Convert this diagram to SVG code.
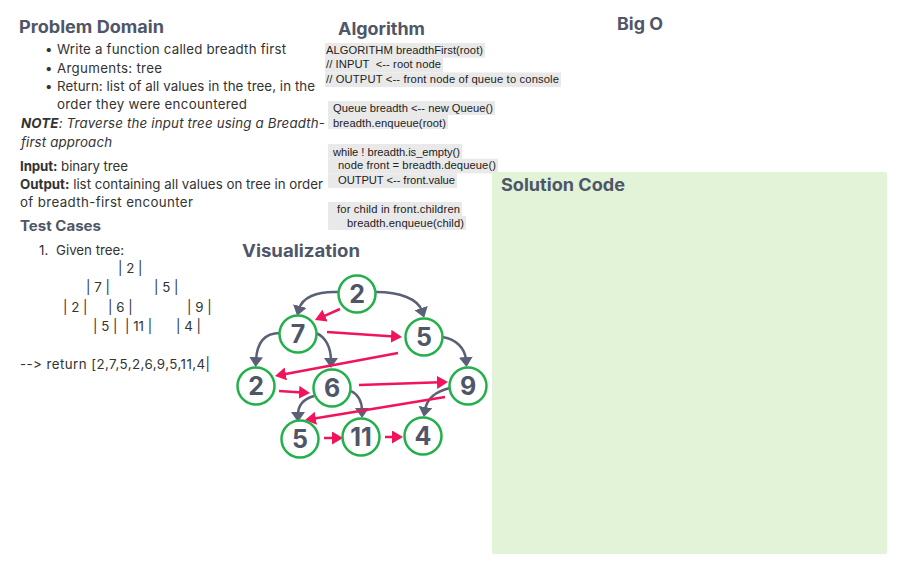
<svg xmlns="http://www.w3.org/2000/svg" width="921" height="568" viewBox="0 0 921 568">
<style>
.h{font-family:Inter,"Noto Sans",sans-serif;font-weight:700;font-size:17px;fill:#4f5668}
.h2{font-family:Inter,"Noto Sans",sans-serif;font-weight:700;font-size:14px;fill:#4f5668}
.t{font-family:Inter,"Noto Sans",sans-serif;font-size:13.3px;fill:#333;font-variant-ligatures:none;font-feature-settings:"calt" 0,"liga" 0}
.b{font-weight:700}
.i{font-style:italic}
.c{font-family:"Liberation Sans",Arial,sans-serif;font-size:11.2px;fill:#222}
.hl{fill:#e9e9e9}
.node circle{fill:#fff;stroke:#22b04b;stroke-width:2.5}
.node text{font-family:Inter,"Noto Sans",sans-serif;font-weight:700;font-size:25px;fill:#4f5668;text-anchor:middle}
.g{fill:none;stroke:#5a6176;stroke-width:2.5;marker-end:url(#ag)}
.r{fill:none;stroke:#f2145a;stroke-width:2.5;marker-end:url(#ar)}
</style>
<defs>
<marker id="ag" viewBox="0 0 10 14" refX="3" refY="7" markerWidth="10" markerHeight="14" markerUnits="userSpaceOnUse" orient="auto"><path d="M0,0 L10,7 L0,14 z" fill="#5a6176"/></marker>
<marker id="ar" viewBox="0 0 11 13" refX="3" refY="6.5" markerWidth="11" markerHeight="13" markerUnits="userSpaceOnUse" orient="auto"><path d="M0,0 L11,6.5 L0,13 z" fill="#f2145a"/></marker>
</defs>
<rect width="921" height="568" fill="#fff"/>

<g id="problem-domain">
<text class="h" x="19" y="33" textLength="145" lengthAdjust="spacingAndGlyphs">Problem Domain</text>
<text class="t" x="45" y="54">•</text>
<text class="t" x="57" y="54" textLength="229">Write a function called breadth first</text>
<text class="t" x="45" y="73">•</text>
<text class="t" x="57" y="73" textLength="105">Arguments: tree</text>
<text class="t" x="45" y="91">•</text>
<text class="t" x="57" y="91" textLength="258">Return: list of all values in the tree, in the</text>
<text class="t" x="57" y="109" textLength="190">order they were encountered</text>
<text class="t i" x="21" y="128" textLength="304"><tspan class="b">NOTE</tspan>: Traverse the input tree using a Breadth-</text>
<text class="t i" x="21" y="147" textLength="91">first approach</text>
<text class="t" x="20" y="171" textLength="108"><tspan class="b">Input:</tspan> binary tree</text>
<text class="t" x="20" y="189" textLength="303"><tspan class="b">Output:</tspan> list containing all values on tree in order</text>
<text class="t" x="20" y="207" textLength="173">of breadth-first encounter</text>
</g>

<g id="test-cases">
<text class="h2" x="20" y="231" textLength="81" lengthAdjust="spacingAndGlyphs">Test Cases</text>
<text class="t" x="39" y="255">1.</text>
<text class="t" x="56" y="255">Given tree:</text>
<text class="t" x="118" y="273">| 2 |</text>
<text class="t" x="86" y="292">| 7 |</text>
<text class="t" x="154" y="292">| 5 |</text>
<text class="t" x="63" y="312">| 2 |</text>
<text class="t" x="108" y="312">| 6 |</text>
<text class="t" x="187" y="312">| 9 |</text>
<text class="t" x="93" y="331">| 5 |</text>
<text class="t" x="125" y="331">| 11 |</text>
<text class="t" x="176" y="331">| 4 |</text>
<text class="t" x="20" y="369" textLength="190">--&gt; return [2,7,5,2,6,9,5,11,4|</text>
</g>

<g id="algorithm">
<text class="h" x="338" y="35" textLength="87" lengthAdjust="spacingAndGlyphs">Algorithm</text>
<rect class="hl" x="325" y="43" width="160" height="14.7"/>
<rect class="hl" x="325" y="57.7" width="118" height="14.7"/>
<rect class="hl" x="325" y="72.4" width="236" height="14.7"/>
<rect class="hl" x="328" y="101" width="167" height="14"/>
<rect class="hl" x="328" y="115" width="120" height="14"/>
<rect class="hl" x="328" y="144" width="134" height="14.7"/>
<rect class="hl" x="328" y="158.7" width="170" height="14.7"/>
<rect class="hl" x="328" y="173.4" width="129" height="14.7"/>
<rect class="hl" x="328" y="202" width="134" height="14"/>
<rect class="hl" x="328" y="216" width="138" height="14"/>
<text class="c" x="326" y="54" textLength="157">ALGORITHM breadthFirst(root)</text>
<text class="c" x="326" y="68" textLength="115" xml:space="preserve">// INPUT  &lt;-- root node</text>
<text class="c" x="326" y="83" textLength="233">// OUTPUT &lt;-- front node of queue to console</text>
<text class="c" x="333" y="112" textLength="160">Queue breadth &lt;-- new Queue()</text>
<text class="c" x="333" y="127" textLength="113">breadth.enqueue(root)</text>
<text class="c" x="333" y="156" textLength="127">while ! breadth.is_empty()</text>
<text class="c" x="338" y="169" textLength="158">node front = breadth.dequeue()</text>
<text class="c" x="338" y="184" textLength="117">OUTPUT &lt;-- front.value</text>
<text class="c" x="337" y="213" textLength="123">for child in front.children</text>
<text class="c" x="347" y="227" textLength="117">breadth.enqueue(child)</text>
</g>

<g id="big-o">
<text class="h" x="617" y="30" textLength="46" lengthAdjust="spacingAndGlyphs">Big O</text>
</g>

<g id="solution-code">
<rect x="492" y="172" width="395" height="382" rx="2" fill="#e2f3d8"/>
<text class="h" x="501" y="191" textLength="124" lengthAdjust="spacingAndGlyphs">Solution Code</text>
</g>

<g id="visualization-title">
<text class="h" x="242" y="257" textLength="118" lengthAdjust="spacingAndGlyphs">Visualization</text>
</g>

<g id="connectors">
<path class="g" d="M338 292 C316 291 302 298 299 309"/>
<path class="g" d="M376 292 C400 292 418 299 422 311"/>
<path class="g" d="M280 333 C264 333 257 343 256 360"/>
<path class="g" d="M316 333 C326 337 331 348 331 361"/>
<path class="g" d="M442 337 C456 339 465 348 466 360"/>
<path class="g" d="M314 396 C303 399 298 405 298 415"/>
<path class="g" d="M351 391 C359 395 362 403 362 411"/>
<path class="g" d="M450 388 C437 391 427 398 425 410"/>
<path class="r" d="M340 309 L322.3 316.8"/>
<path class="r" d="M327 332 L394 336.5"/>
<path class="r" d="M398 353 L282.9 374.5"/>
<path class="r" d="M279 391 L302 392.5"/>
<path class="r" d="M359 385 L440 382.3"/>
<path class="r" d="M445 397 L312.9 418.7"/>
<path class="r" d="M324 438 L335 438"/>
<path class="r" d="M385 437 L395 437"/>
</g>

<g id="n-root" class="node"><circle cx="357" cy="294" r="18.5"/><text x="357" y="303">2</text></g>
<g id="n-7" class="node"><circle cx="298" cy="334" r="18.5"/><text x="298" y="343">7</text></g>
<g id="n-5a" class="node"><circle cx="424" cy="337" r="18.5"/><text x="424" y="346">5</text></g>
<g id="n-2" class="node"><circle cx="256" cy="386" r="18.5"/><text x="256" y="395">2</text></g>
<g id="n-6" class="node"><circle cx="332" cy="388" r="18.5"/><text x="332" y="397">6</text></g>
<g id="n-9" class="node"><circle cx="468" cy="386" r="18.5"/><text x="468" y="395">9</text></g>
<g id="n-5b" class="node"><circle cx="300" cy="439" r="18.5"/><text x="300" y="448">5</text></g>
<g id="n-11" class="node"><circle cx="361" cy="437" r="18.5"/><text x="361" y="446">11</text></g>
<g id="n-4" class="node"><circle cx="423" cy="436" r="18.5"/><text x="423" y="445">4</text></g>
</svg>
